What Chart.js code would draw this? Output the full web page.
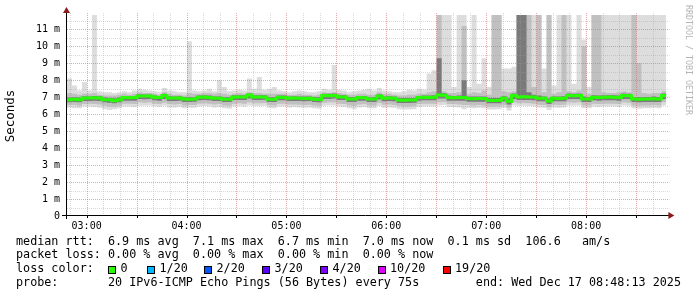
<!DOCTYPE html>
<html>
<head>
<meta charset="utf-8">
<script src="https://cdn.jsdelivr.net/npm/chart.js@4.4.1/dist/chart.umd.min.js"></script>
<style>
  body { margin: 0; background: #fff; }
  #c { display: block; }
</style>
</head>
<body>
<canvas id="c" width="697" height="297"></canvas>
<script>
// smokeping style graph, 3 minute buckets from 02:48:13 to 08:48:13
const startHour = 2 + 48 / 60 + 13 / 3600;
const stepHours = 3 / 60;

// median rtt in ms (green line)
const median = [
  6.86, 6.88, 6.86, 6.96, 6.95, 6.97, 6.96, 6.86, 6.85, 6.80,
  6.86, 6.98, 6.97, 6.98, 7.08, 7.07, 7.08, 7.00, 6.99, 7.10,
  6.96, 6.95, 6.96, 6.90, 6.89, 6.90, 7.00, 7.01, 6.99, 6.94,
  6.94, 6.88, 6.89, 7.02, 7.01, 7.02, 7.13, 7.02, 7.01, 7.02,
  6.88, 6.88, 7.00, 6.99, 6.94, 6.95, 6.94, 6.93, 6.94, 6.88,
  6.87, 7.10, 7.09, 7.10, 7.02, 7.01, 6.90, 6.90, 6.98, 6.97,
  6.90, 6.90, 7.08, 6.94, 6.95, 6.94, 6.84, 6.83, 6.84, 6.84,
  6.98, 7.00, 6.99, 7.00, 7.13, 7.12, 6.98, 6.97, 6.98, 6.98,
  6.92, 6.91, 6.92, 6.92, 6.82, 6.81, 6.82, 6.94, 6.76, 7.10,
  7.02, 7.03, 7.02, 7.01, 6.94, 6.94, 6.78, 6.94, 6.93, 6.94,
  7.10, 7.09, 7.10, 6.90, 6.90, 7.00, 6.99, 7.00, 7.01, 7.00,
  6.99, 7.10, 7.09, 6.90, 6.89, 6.90, 6.90, 6.91, 6.90, 7.10,
  7.10
];

// smoke: outer (light) band
const smokeHi1 = [
  8.10, 7.70, 7.40, 7.90, 7.40, 11.85, 7.35, 7.30, 7.30, 7.25,
  7.30, 7.35, 7.30, 7.40, 7.50, 7.45, 7.40, 7.35, 7.30, 7.55,
  7.40, 7.35, 7.30, 7.30, 10.30, 7.40, 7.35, 7.40, 7.50, 7.35,
  8.00, 7.60, 7.35, 7.40, 7.45, 7.40, 8.10, 7.50, 8.20, 7.45,
  7.50, 7.60, 7.40, 7.35, 7.30, 7.35, 7.40, 7.35, 7.30, 7.30,
  7.35, 7.50, 7.45, 8.90, 7.45, 7.40, 7.30, 7.35, 7.40, 7.45,
  7.50, 7.40, 7.55, 7.40, 7.35, 7.30, 7.30, 7.35, 7.45, 7.40,
  7.50, 7.45, 8.40, 8.60, 11.85, 11.85, 11.85, 7.60, 11.85, 11.85,
  7.60, 11.85, 7.80, 9.30, 7.60, 11.85, 11.85, 8.70, 8.70, 8.80,
  11.85, 11.85, 11.85, 11.85, 11.85, 8.70, 11.85, 7.70, 11.85, 11.85,
  11.85, 7.80, 11.85, 10.40, 7.60, 11.85, 11.85, 11.85, 11.85, 11.85,
  11.85, 11.85, 11.85, 11.85, 11.85, 11.85, 11.85, 11.85, 11.85, 11.85,
  11.85
];
const smokeLo1 = [
  6.40, 6.35, 6.35, 6.45, 6.45, 6.42, 6.40, 6.30, 6.25, 6.30,
  6.35, 6.45, 6.45, 6.42, 6.50, 6.50, 6.52, 6.45, 6.42, 6.50,
  6.40, 6.40, 6.42, 6.35, 6.38, 6.38, 6.45, 6.48, 6.45, 6.40,
  6.42, 6.35, 6.32, 6.45, 6.48, 6.45, 6.52, 6.48, 6.48, 6.50,
  6.38, 6.35, 6.45, 6.45, 6.40, 6.42, 6.40, 6.38, 6.40, 6.35,
  6.32, 6.50, 6.52, 6.52, 6.45, 6.42, 6.35, 6.30, 6.40, 6.42,
  6.35, 6.35, 6.48, 6.38, 6.40, 6.38, 6.30, 6.28, 6.28, 6.30,
  6.42, 6.45, 6.45, 6.45, 6.52, 6.55, 6.42, 6.42, 6.40, 6.30,
  6.38, 6.35, 6.38, 6.35, 6.28, 6.28, 6.30, 6.38, 6.22, 6.52,
  6.48, 6.50, 6.48, 6.45, 6.40, 6.38, 6.25, 6.40, 6.38, 6.40,
  6.52, 6.50, 6.52, 6.35, 6.35, 6.45, 6.42, 6.45, 6.45, 6.45,
  6.42, 6.52, 6.50, 6.35, 6.32, 6.35, 6.35, 6.38, 6.35, 6.52,
  6.52
];

// smoke: middle band
const smokeHi2 = [
  7.25, 7.20, 7.15, 7.20, 7.20, 7.25, 7.15, 7.10, 7.10, 7.10,
  7.15, 7.20, 7.15, 7.20, 7.30, 7.25, 7.25, 7.20, 7.15, 7.30,
  7.20, 7.15, 7.15, 7.10, 7.25, 7.20, 7.20, 7.25, 7.25, 7.20,
  7.25, 7.20, 7.15, 7.20, 7.25, 7.20, 7.30, 7.25, 7.25, 7.20,
  7.20, 7.20, 7.20, 7.20, 7.15, 7.15, 7.20, 7.15, 7.15, 7.10,
  7.15, 7.30, 7.25, 7.30, 7.25, 7.20, 7.15, 7.15, 7.20, 7.20,
  7.15, 7.15, 7.30, 7.20, 7.20, 7.15, 7.10, 7.10, 7.15, 7.15,
  7.20, 7.20, 7.30, 7.35, 11.85, 7.35, 7.25, 7.25, 7.30, 11.20,
  7.20, 7.30, 7.25, 7.40, 7.15, 11.85, 11.85, 7.35, 7.30, 7.35,
  11.85, 11.85, 11.85, 7.60, 11.85, 7.30, 11.85, 7.20, 7.30, 11.85,
  7.35, 7.30, 7.40, 10.00, 7.20, 11.85, 11.85, 7.30, 7.25, 7.25,
  7.30, 7.35, 7.30, 11.85, 9.00, 7.25, 7.20, 7.25, 7.25, 7.35,
  7.35
];
const smokeLo2 = [
  6.55, 6.55, 6.50, 6.60, 6.62, 6.60, 6.58, 6.50, 6.45, 6.45,
  6.50, 6.62, 6.62, 6.60, 6.70, 6.68, 6.70, 6.62, 6.60, 6.68,
  6.60, 6.58, 6.60, 6.52, 6.55, 6.55, 6.62, 6.65, 6.62, 6.58,
  6.60, 6.52, 6.50, 6.62, 6.65, 6.62, 6.70, 6.64, 6.65, 6.66,
  6.55, 6.52, 6.62, 6.62, 6.58, 6.58, 6.56, 6.55, 6.56, 6.52,
  6.50, 6.68, 6.70, 6.70, 6.62, 6.60, 6.52, 6.48, 6.58, 6.60,
  6.52, 6.52, 6.66, 6.56, 6.58, 6.55, 6.48, 6.45, 6.46, 6.48,
  6.60, 6.62, 6.62, 6.62, 6.70, 6.72, 6.60, 6.60, 6.58, 6.55,
  6.55, 6.52, 6.55, 6.52, 6.45, 6.45, 6.46, 6.55, 6.40, 6.70,
  6.64, 6.66, 6.64, 6.62, 6.56, 6.55, 6.42, 6.56, 6.55, 6.56,
  6.70, 6.68, 6.70, 6.52, 6.52, 6.62, 6.60, 6.62, 6.62, 6.62,
  6.60, 6.70, 6.68, 6.52, 6.50, 6.52, 6.52, 6.54, 6.52, 6.70,
  6.70
];

// smoke: inner (dark) band
const smokeHi3 = [
  6.98, 7.00, 6.98, 7.06, 7.05, 7.08, 7.06, 6.98, 6.96, 6.94,
  6.98, 7.08, 7.06, 7.08, 7.18, 7.16, 7.16, 7.10, 7.08, 7.20,
  7.06, 7.05, 7.06, 7.00, 7.02, 7.00, 7.10, 7.12, 7.10, 7.05,
  7.05, 7.00, 7.00, 7.12, 7.12, 7.12, 7.22, 7.12, 7.12, 7.12,
  7.00, 7.00, 7.10, 7.10, 7.05, 7.06, 7.05, 7.04, 7.05, 7.00,
  7.00, 7.20, 7.20, 7.22, 7.12, 7.12, 7.02, 7.02, 7.08, 7.08,
  7.02, 7.02, 7.18, 7.05, 7.06, 7.05, 6.96, 6.95, 6.96, 6.96,
  7.08, 7.10, 7.10, 7.12, 9.30, 7.24, 7.10, 7.08, 7.10, 8.00,
  7.04, 7.04, 7.04, 7.05, 6.95, 6.95, 6.95, 7.06, 6.92, 7.22,
  11.85, 11.85, 7.30, 7.15, 7.10, 7.05, 6.92, 7.05, 7.05, 7.06,
  7.22, 7.20, 7.22, 7.05, 7.02, 7.12, 7.10, 7.12, 7.12, 7.12,
  7.10, 7.22, 7.20, 7.02, 7.02, 7.02, 7.02, 7.04, 7.02, 7.22,
  7.22
];
const smokeLo3 = [
  6.70, 6.72, 6.70, 6.78, 6.78, 6.80, 6.78, 6.70, 6.68, 6.64,
  6.70, 6.80, 6.80, 6.80, 6.90, 6.88, 6.90, 6.82, 6.80, 6.90,
  6.78, 6.78, 6.80, 6.72, 6.72, 6.74, 6.82, 6.84, 6.82, 6.78,
  6.78, 6.72, 6.72, 6.84, 6.84, 6.84, 6.92, 6.84, 6.84, 6.86,
  6.72, 6.72, 6.82, 6.82, 6.78, 6.78, 6.78, 6.76, 6.78, 6.72,
  6.70, 6.90, 6.90, 6.92, 6.84, 6.84, 6.72, 6.72, 6.80, 6.80,
  6.72, 6.72, 6.88, 6.76, 6.78, 6.76, 6.66, 6.66, 6.66, 6.68,
  6.80, 6.82, 6.82, 6.82, 6.92, 6.92, 6.80, 6.80, 6.80, 6.80,
  6.74, 6.74, 6.74, 6.74, 6.64, 6.64, 6.64, 6.76, 6.58, 6.90,
  6.84, 6.84, 6.84, 6.82, 6.76, 6.76, 6.60, 6.76, 6.76, 6.76,
  6.90, 6.90, 6.90, 6.72, 6.72, 6.82, 6.80, 6.82, 6.82, 6.82,
  6.80, 6.90, 6.90, 6.72, 6.70, 6.72, 6.72, 6.72, 6.72, 6.90,
  6.90
];

const yTicks = [0, 1, 2, 3, 4, 5, 6, 7, 8, 9, 10, 11];
const xTickLabels = ['03:00', '04:00', '05:00', '06:00', '07:00', '08:00'];

const lossLabels = ['0', '1/20', '2/20', '3/20', '4/20', '10/20', '19/20'];
const lossColors = ['#26ff00', '#00b8ff', '#0059ff', '#5e00ff', '#7e00ff', '#dd00ff', '#ff0000'];

const statsLines = [
  'median rtt:  6.9 ms avg  7.1 ms max  6.7 ms min  7.0 ms now  0.1 ms sd  106.6   am/s',
  'packet loss: 0.00 % avg  0.00 % max  0.00 % min  0.00 % now',
  'loss color:',
  'probe:       20 IPv6-ICMP Echo Pings (56 Bytes) every 75s        end: Wed Dec 17 08:48:13 2025'
];

const MONO = '"DejaVu Sans Mono", monospace';

function pts(arr) {
  return arr.map((v, i) => ({ x: startHour + i * stepHours, y: v }));
}

function band(arr, color, fill) {
  return {
    data: pts(arr),
    borderWidth: 0,
    borderColor: 'rgba(0,0,0,0)',
    backgroundColor: color,
    fill: fill,
    stepped: true,
    pointRadius: 0
  };
}

const rrdDecor = {
  id: 'rrdDecor',
  beforeDatasetDraw(chart, args) {
    // grid goes over the smoke but under the median line
    if (args.index !== 0) return;
    const { ctx, chartArea: a, scales: { x, y } } = chart;
    ctx.save();
    ctx.lineWidth = 1;
    ctx.setLineDash([1, 1]);
    for (let k = 1; k * 0.5 < y.max; k++) {
      const py = Math.round(y.getPixelForValue(k * 0.5)) + 0.5;
      ctx.strokeStyle = k % 2 === 0 ? 'rgba(210,110,110,0.6)' : 'rgba(160,160,160,0.4)';
      ctx.beginPath();
      ctx.moveTo(a.left, py);
      ctx.lineTo(a.right + 3, py);
      ctx.stroke();
    }
    for (let m = 170; m / 60 < x.max; m += 10) {
      const px = Math.round(x.getPixelForValue(m / 60)) + 0.5;
      ctx.strokeStyle = m % 30 === 0 ? 'rgba(210,110,110,0.6)' : 'rgba(160,160,160,0.4)';
      ctx.beginPath();
      ctx.moveTo(px, a.top - 2);
      ctx.lineTo(px, a.bottom);
      ctx.stroke();
    }
    ctx.restore();
  },
  afterDraw(chart) {
    const { ctx, chartArea: a, scales: { x } } = chart;
    ctx.save();
    // axes
    ctx.strokeStyle = '#000';
    ctx.lineWidth = 1;
    ctx.beginPath();
    ctx.moveTo(a.left - 0.5, a.bottom + 3);
    ctx.lineTo(a.left - 0.5, a.top - 4);
    ctx.moveTo(a.left - 5, a.bottom - 0.5);
    ctx.lineTo(a.right + 3, a.bottom - 0.5);
    ctx.stroke();
    // tick marks on the time axis
    for (let m = 180; m / 60 < x.max; m += 30) {
      const px = Math.round(x.getPixelForValue(m / 60)) + 0.5;
      ctx.beginPath();
      ctx.moveTo(px, a.bottom);
      ctx.lineTo(px, a.bottom + 2);
      ctx.stroke();
    }
    // arrows
    ctx.fillStyle = '#8c1c1c';
    ctx.beginPath();
    ctx.moveTo(a.left - 4, a.top - 2);
    ctx.lineTo(a.left + 3, a.top - 2);
    ctx.lineTo(a.left - 0.5, a.top - 8);
    ctx.closePath();
    ctx.fill();
    ctx.beginPath();
    ctx.moveTo(a.right + 2, a.bottom - 4);
    ctx.lineTo(a.right + 2, a.bottom + 3);
    ctx.lineTo(a.right + 8, a.bottom - 0.5);
    ctx.closePath();
    ctx.fill();

    // vertical label
    ctx.fillStyle = '#000';
    ctx.font = '12.5px ' + MONO;
    ctx.textAlign = 'center';
    ctx.textBaseline = 'middle';
    ctx.save();
    ctx.translate(11, 116);
    ctx.rotate(-Math.PI / 2);
    ctx.fillText('Seconds', 0, 0);
    ctx.restore();

    // watermark
    ctx.save();
    ctx.fillStyle = '#b4b4b4';
    ctx.font = '8.3px ' + MONO;
    ctx.translate(688, 60);
    ctx.rotate(Math.PI / 2);
    ctx.fillText('RRDTOOL / TOBI OETIKER', 0, 0);
    ctx.restore();

    // legend block
    ctx.font = '11.75px ' + MONO;
    ctx.textAlign = 'left';
    const rows = [241.7, 255.2, 269.3, 282.8];
    statsLines.forEach((s, i) => ctx.fillText(s, 16, rows[i]));
    const boxX = [108, 147, 204, 262, 320, 377.5, 442.5];
    lossLabels.forEach((lab, i) => {
      const bx = Math.round(boxX[i]);
      ctx.fillStyle = lossColors[i];
      ctx.fillRect(bx, 266, 8, 8);
      ctx.strokeStyle = '#000';
      ctx.strokeRect(bx + 0.5, 266.5, 7, 7);
      ctx.fillStyle = '#000';
      ctx.fillText(lab, boxX[i] + 12.5, rows[2]);
    });
    ctx.restore();
  }
};

new Chart(document.getElementById('c'), {
  type: 'line',
  data: {
    datasets: [
      { data: pts(median), borderColor: '#26ff00', borderWidth: 3, fill: false, stepped: true, pointRadius: 0, borderCapStyle: 'butt', borderJoinStyle: 'miter' },
      band(smokeHi3, '#7a7a7a', '+1'),
      band(smokeLo3, 'rgba(0,0,0,0)', false),
      band(smokeHi2, '#c0c0c0', '+1'),
      band(smokeLo2, 'rgba(0,0,0,0)', false),
      band(smokeHi1, '#dddddd', '+1'),
      band(smokeLo1, 'rgba(0,0,0,0)', false)
    ]
  },
  options: {
    responsive: false,
    devicePixelRatio: 1,
    animation: false,
    events: [],
    layout: { autoPadding: false, padding: { left: 0, right: 30.6, top: 15, bottom: 61 } },
    plugins: { legend: { display: false }, tooltip: { enabled: false } },
    scales: {
      x: {
        type: 'linear',
        min: startHour,
        max: startHour + (median.length - 1) * stepHours,
        afterBuildTicks: s => { s.ticks = xTickLabels.map(l => ({ value: parseInt(l, 10) })); },
        afterFit: s => { s.height = 20; },
        grid: { display: false, drawTicks: false },
        border: { display: false },
        ticks: {
          autoSkip: false,
          maxRotation: 0,
          padding: 4,
          color: '#000',
          font: { family: MONO, size: 10 },
          callback: (v, i) => xTickLabels[i]
        }
      },
      y: {
        min: 0,
        max: 11.85,
        afterBuildTicks: s => { s.ticks = yTicks.map(v => ({ value: v })); },
        afterFit: s => { s.width = 67; },
        grid: { display: false, drawTicks: false },
        border: { display: false },
        ticks: {
          padding: 7,
          color: '#000',
          font: { family: MONO, size: 10 },
          callback: v => (v === 0 ? '0' : v + ' m')
        }
      }
    }
  },
  plugins: [rrdDecor]
});
</script>
</body>
</html>
